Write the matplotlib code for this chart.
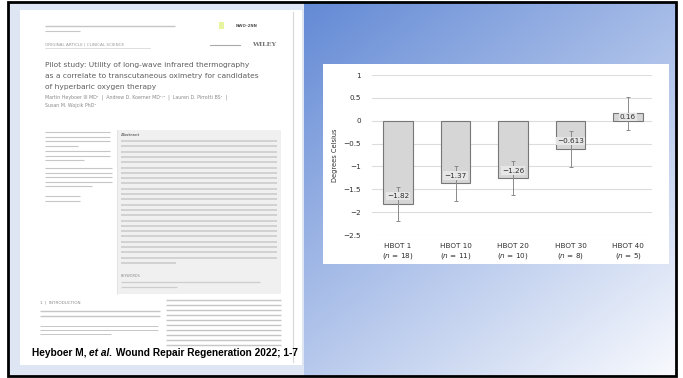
import numpy as np
import matplotlib
matplotlib.use("Agg")
import matplotlib.pyplot as plt
from matplotlib.patches import Rectangle

# chart data
categories = ["HBOT 1", "HBOT 10", "HBOT 20", "HBOT 30", "HBOT 40"]
n_counts = [18, 11, 10, 8, 5]
mean_change = [-1.82, -1.37, -1.26, -0.613, 0.16]
value_labels = ["-1.82", "-1.37", "-1.26", "-0.613", "0.16"]
err = [0.37, 0.39, 0.37, 0.39, 0.36]
yticks = [1, 0.5, 0, -0.5, -1, -1.5, -2, -2.5]

# paper thumbnail text
title_lines = ["Pilot study: Utility of long-wave infrared thermography",
               "as a correlate to transcutaneous oximetry for candidates",
               "of hyperbaric oxygen therapy"]
author_lines = ["Martin Heyboer III MD\u00b9  |  Andrew D. Koerner MD\u00b9\u02d2\u00b2  |  Lauren D. Pirrotti BS\u00b9  |",
                "Susan M. Wojcik PhD\u00b9"]
citation = ["Heyboer M, ", "et al.", " Wound Repair Regeneration 2022; 1-7"]

W, H = 683, 378
fig = plt.figure(figsize=(W / 100, H / 100), dpi=100)

# ---- slide background (pixel coordinates) ----
bg = fig.add_axes([0, 0, 1, 1])
yy, xx = np.mgrid[0:H, 0:W]
t = 0.58 * yy / H + 0.45 * (xx - 300) / 383
t = np.clip(t, 0, 1)[..., None]
dark = np.array([98, 137, 213]) / 255
light = np.array([246, 248, 253]) / 255
img = dark * (1 - t) + light * t
outside = (xx < 8) | (xx > 676) | (yy < 2) | (yy > 376)
img[outside] = 1.0
bg.imshow(img, extent=(0, W, H, 0), aspect="auto", interpolation="bilinear")
bg.set_xlim(0, W)
bg.set_ylim(H, 0)
bg.axis("off")

# light halo round the paper image
bg.add_patch(Rectangle((8, 2), 296, 374, fc="#dfe6f3", ec="none"))
bg.add_patch(Rectangle((8, 2), 668, 374, fill=False, ec="black", lw=2))

# ---- paper thumbnail ----
bg.add_patch(Rectangle((20, 10), 282, 355, fc="white", ec="none"))
bg.plot([293, 293], [12, 362], color="#d8d8d8", lw=0.8)
txt_gray = "#c6c6c6"


def text_lines(x0, x1, ys, lw=1.1, color=txt_gray, last=None):
    for i, y in enumerate(ys):
        xe = x1 if (last is None or i < len(ys) - 1) else x0 + (x1 - x0) * last
        bg.plot([x0, xe], [y, y], color=color, lw=lw, solid_capstyle="butt")


text_lines(45, 175, [26], lw=1.0)
text_lines(45, 80, [31], lw=0.8)
bg.add_patch(Rectangle((219, 22), 5, 7, fc="#e8f5a0", ec="none"))
bg.text(236, 26, "NWO-2NN", fontsize=2.8, color="#555555", va="center", weight="bold")
bg.text(45, 45, "ORIGINAL ARTICLE | CLINICAL SCIENCE", fontsize=3.0, color="#999999", va="center")
bg.plot([45, 150], [48, 48], color="#d0d0d0", lw=0.5)
bg.plot([210, 240], [45, 45], color="#aaaaaa", lw=0.8)
bg.text(252, 45, "WILEY", fontsize=4.6, color="#777777", va="center", family="DejaVu Serif", weight="bold")
for ty, line in zip([65, 76, 87], title_lines):
    bg.text(45, ty, line, fontsize=5.4, color="#5e5e5e", va="center")
for ty, line in zip([97, 105], author_lines):
    bg.text(45, ty, line, fontsize=3.4, color="#8a8a8a", va="center")

# affiliations column
text_lines(45, 110, [132, 136.5, 141, 145.5], lw=0.8, last=0.5)
text_lines(45, 110, [151, 155.5, 160], lw=0.8, last=0.6)
text_lines(45, 112, [168, 172.5, 177, 181.5, 186], lw=0.8, last=0.7)
text_lines(45, 80, [196, 200.5], lw=0.8)

# abstract box
bg.add_patch(Rectangle((117, 130), 164, 164, fc="#f0f0f0", ec="none"))
bg.plot([117, 117], [130, 294], color="#dddddd", lw=0.5)
bg.text(121, 135, "Abstract", fontsize=2.9, color="#777777", va="center", weight="bold")
abs_rows = list(np.arange(141, 268, 5.3))
text_lines(121, 277, abs_rows, lw=1.2, color="#cdcdcd", last=0.35)
bg.text(121, 276, "KEYWORDS", fontsize=2.4, color="#888888", va="center")
text_lines(121, 260, [282, 287], lw=0.9, color="#cdcdcd", last=0.4)

# introduction
bg.text(40, 303, "1  |  INTRODUCTION", fontsize=3.0, color="#888888", va="center")
text_lines(40, 160, [311, 316], lw=1.0)
text_lines(40, 158, [326, 330, 334], lw=0.7, last=0.6)
text_lines(166, 281, list(np.arange(300, 346, 5)), lw=1.0)

# citation, bold with italic "et al."
x_next = 32
for s, style in zip(citation, ["normal", "italic", "normal"]):
    tt = bg.text(x_next, 353, s, fontsize=7.3, weight="bold", style=style, va="center",
                 family="Liberation Sans")
    fig.canvas.draw()
    x_next = bg.transData.inverted().transform((tt.get_window_extent().x1, 0))[0]

# ---- chart panel ----
bg.add_patch(Rectangle((323, 64), 346, 200, fc="white", ec="none"))

x0, x1, ytop, ybot = 372, 652, 75, 235
ax = fig.add_axes([x0 / W, 1 - ybot / H, (x1 - x0) / W, (ybot - ytop) / H])
ax.patch.set_alpha(0)
pos = np.arange(len(categories))
step = 57.5
ax.set_xlim(-(398 - x0) / step, 4 + (x1 - 628) / step)
ax.set_ylim(-2.5, 1)
ax.set_yticks(yticks)
ax.set_yticklabels([f"{v:g}".replace("-", "\u2212") for v in yticks])
ax.grid(axis="y", color="#dcdcdc", lw=0.8)
ax.set_axisbelow(True)
for s in ax.spines.values():
    s.set_visible(False)
ax.tick_params(length=0, labelsize=5.2, labelcolor="#2e2e2e")
ax.tick_params(axis="y", pad=8)
ax.tick_params(axis="x", pad=6)

ax.bar(pos, mean_change, width=0.52, color="#d6d6d6", edgecolor="#777777", lw=0.8, zorder=2)
ax.errorbar(pos, mean_change, yerr=err, fmt="none", ecolor="#8a8a8a", elinewidth=0.7,
            capsize=1.5, capthick=0.7, zorder=3)
for p, v, lab in zip(pos, mean_change, value_labels):
    off = min(0.17, abs(v) / 2)
    ax.text(p, v + off if v < 0 else v - off, lab.replace("-", "\u2212"), ha="center", va="center",
            fontsize=5.2, color="#2e2e2e", zorder=4,
            bbox=dict(boxstyle="square,pad=0.15", fc="#e6e6e6", ec="none"))

ax.set_xticks(pos)
ax.set_xticklabels([f"{c}\n($n$ = {n})" for c, n in zip(categories, n_counts)], linespacing=1.3)
ax.set_ylabel("Degrees Celsius", fontsize=4.8, color="#2e2e2e", labelpad=4)

fig.savefig("out.png", dpi=100)
